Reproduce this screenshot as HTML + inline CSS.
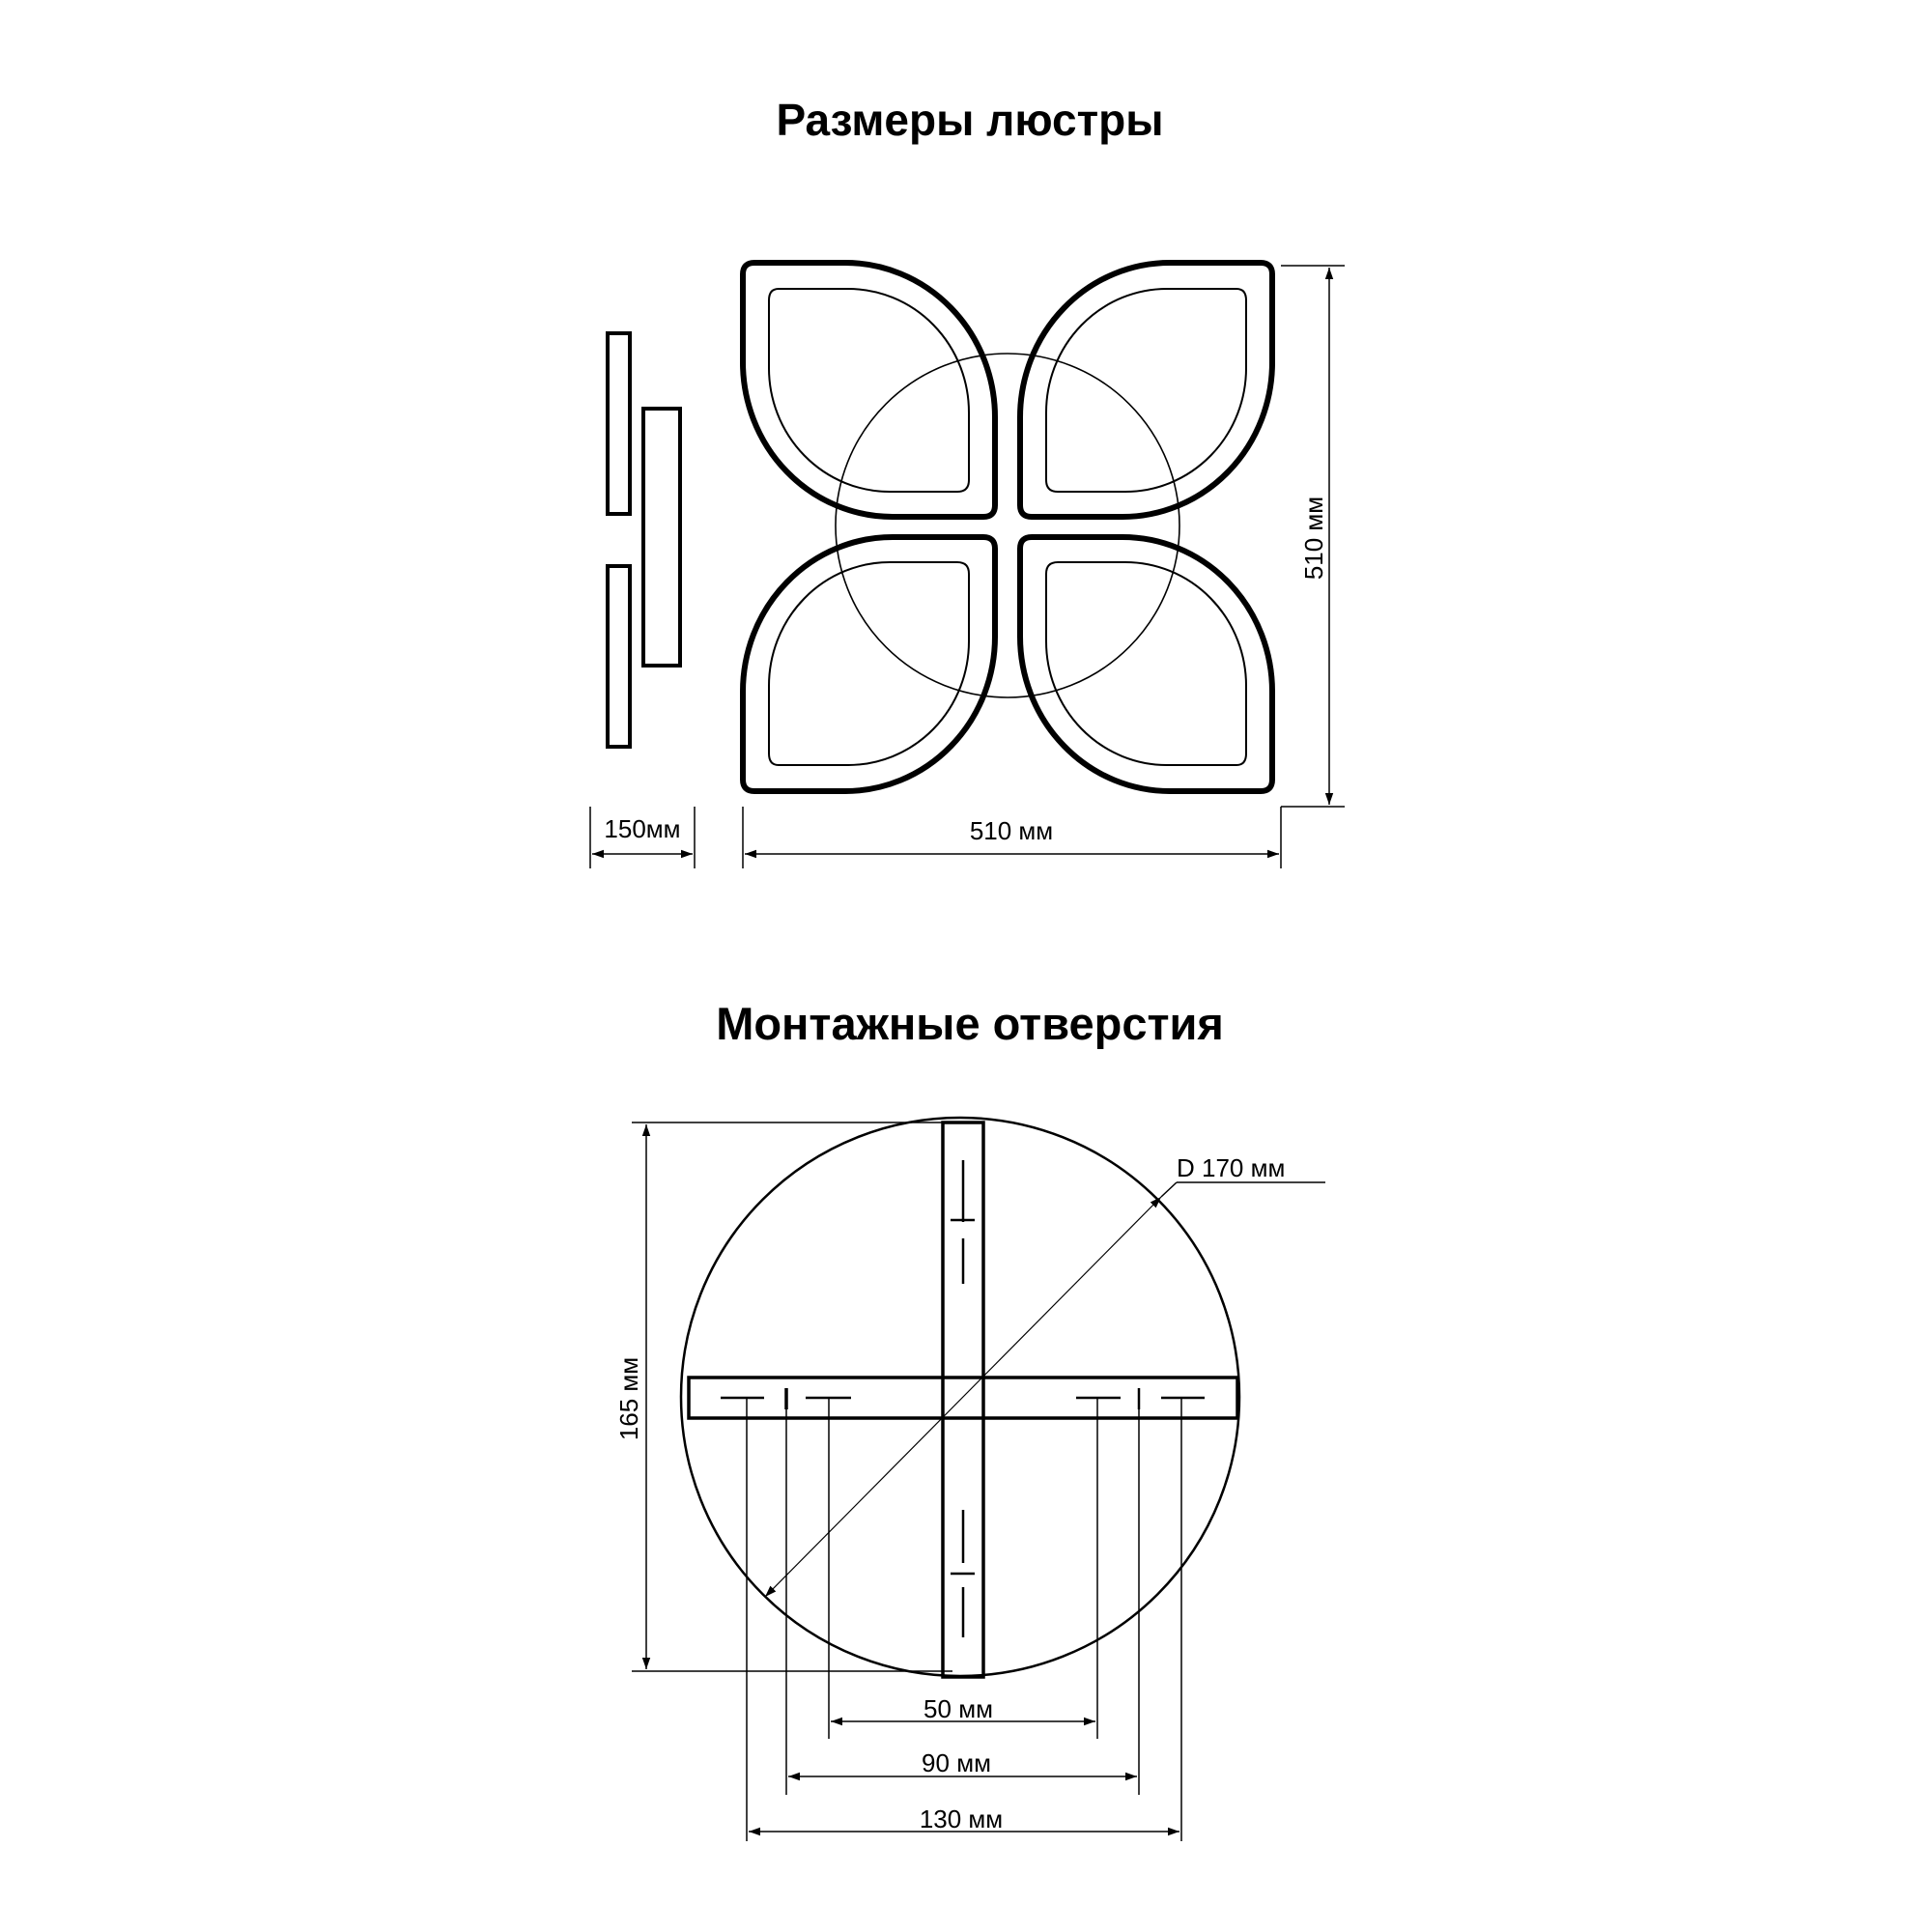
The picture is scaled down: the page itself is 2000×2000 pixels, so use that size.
<!DOCTYPE html>
<html><head><meta charset="utf-8"><style>
html,body{margin:0;padding:0;background:#fff}
svg{display:block}
text{font-family:"Liberation Sans",sans-serif;fill:#000}
</style></head><body>
<svg width="2000" height="2000" viewBox="0 0 2000 2000" xmlns="http://www.w3.org/2000/svg">
<defs>
<marker id="a" viewBox="0 0 10 10" refX="10" refY="5" markerWidth="12" markerHeight="12" markerUnits="userSpaceOnUse" orient="auto-start-reverse"><path d="M0,1.5 L10,5 L0,8.5 Z" fill="#000"/></marker>
<g id="petal">
<path d="M12,0 H106 A155 160 0 0 1 261,160 V251 Q261,263 249,263 H155 A155 160 0 0 1 0,103 V12 Q0,0 12,0 Z" fill="none" stroke="#000" stroke-width="6"/>
<path d="M37,27 H109 A125 128 0 0 1 234,155 V225 Q234,237 222,237 H152 A125 128 0 0 1 27,109 V39 Q27,27 37,27 Z" fill="none" stroke="#000" stroke-width="2"/>
</g>
</defs>

<text x="1004" y="140" font-size="46" font-weight="bold" text-anchor="middle">Размеры люстры</text>
<text x="1004" y="1076" font-size="47" font-weight="bold" text-anchor="middle">Монтажные отверстия</text>

<g transform="translate(-3,-1)">
<use href="#petal" transform="translate(772,273)"/>
<use href="#petal" transform="translate(1320,273) scale(-1,1)"/>
<use href="#petal" transform="translate(772,820) scale(1,-1)"/>
<use href="#petal" transform="translate(1320,820) scale(-1,-1)"/>
<circle cx="1046" cy="545" r="178" fill="none" stroke="#000" stroke-width="1.6"/>

<g fill="none" stroke="#000" stroke-width="4">
<rect x="632" y="346" width="23" height="187"/>
<rect x="669" y="424" width="38" height="266"/>
<rect x="632" y="587" width="23" height="187"/>
</g>

<g stroke="#000" stroke-width="1.5" fill="none">
<line x1="1329" y1="276" x2="1395" y2="276"/>
<line x1="1329" y1="836" x2="1395" y2="836"/>
<line x1="1329" y1="836" x2="1329" y2="900"/>
<line x1="1379" y1="278" x2="1379" y2="834" marker-start="url(#a)" marker-end="url(#a)"/>
<line x1="772" y1="836" x2="772" y2="900"/>
<line x1="774" y1="885" x2="1327" y2="885" marker-start="url(#a)" marker-end="url(#a)"/>
<line x1="614" y1="836" x2="614" y2="900"/>
<line x1="722" y1="836" x2="722" y2="900"/>
<line x1="616" y1="885" x2="720" y2="885" marker-start="url(#a)" marker-end="url(#a)"/>
</g>
<text x="1050" y="870" font-size="26" text-anchor="middle">510 мм</text>
<text x="668" y="868" font-size="26" text-anchor="middle">150мм</text>
<text x="0" y="0" font-size="26" text-anchor="middle" transform="translate(1372,558) rotate(-90)">510 мм</text>
</g>

<g transform="translate(-4,-4)">
<circle cx="998" cy="1450" r="289" fill="none" stroke="#000" stroke-width="2.5"/>
<g fill="none" stroke="#000" stroke-width="3.5">
<rect x="980" y="1166" width="42" height="574"/>
<rect x="717" y="1430" width="568" height="42"/>
</g>
<g stroke="#000" stroke-width="2.5">
<line x1="1001" y1="1205" x2="1001" y2="1269"/>
<line x1="988" y1="1267" x2="1013" y2="1267"/>
<line x1="1001" y1="1286" x2="1001" y2="1333"/>
<line x1="1001" y1="1567" x2="1001" y2="1622"/>
<line x1="988" y1="1633" x2="1013" y2="1633"/>
<line x1="1001" y1="1647" x2="1001" y2="1699"/>
<line x1="750" y1="1451" x2="795" y2="1451"/>
<line x1="818" y1="1441" x2="818" y2="1463" stroke-width="3.5"/>
<line x1="838" y1="1451" x2="885" y2="1451"/>
<line x1="1118" y1="1451" x2="1164" y2="1451"/>
<line x1="1183" y1="1441" x2="1183" y2="1463"/>
<line x1="1206" y1="1451" x2="1251" y2="1451"/>
</g>
<g stroke="#000" stroke-width="1.5" fill="none">
<line x1="777" y1="1451" x2="777" y2="1910"/>
<line x1="818" y1="1451" x2="818" y2="1862"/>
<line x1="862" y1="1451" x2="862" y2="1804"/>
<line x1="1140" y1="1451" x2="1140" y2="1804"/>
<line x1="1183" y1="1451" x2="1183" y2="1862"/>
<line x1="1227" y1="1451" x2="1227" y2="1910"/>
<line x1="864" y1="1786" x2="1138" y2="1786" marker-start="url(#a)" marker-end="url(#a)"/>
<line x1="820" y1="1843" x2="1181" y2="1843" marker-start="url(#a)" marker-end="url(#a)"/>
<line x1="779" y1="1900" x2="1225" y2="1900" marker-start="url(#a)" marker-end="url(#a)"/>
<line x1="658" y1="1166" x2="990" y2="1166"/>
<line x1="658" y1="1734" x2="990" y2="1734"/>
<line x1="673" y1="1168" x2="673" y2="1732" marker-start="url(#a)" marker-end="url(#a)"/>
<line x1="796" y1="1657" x2="1206" y2="1243" stroke-width="1.2" marker-start="url(#a)" marker-end="url(#a)"/>
<line x1="1206" y1="1243" x2="1222" y2="1228"/>
<line x1="1222" y1="1228" x2="1376" y2="1228"/>
</g>
<text x="996" y="1782" font-size="26" text-anchor="middle">50 мм</text>
<text x="994" y="1838" font-size="26" text-anchor="middle">90 мм</text>
<text x="999" y="1896" font-size="26" text-anchor="middle">130 мм</text>
<text x="1222" y="1222" font-size="26">D 170 мм</text>
<text x="0" y="0" font-size="26" text-anchor="middle" transform="translate(664,1452) rotate(-90)">165 мм</text>
</g>
</svg>
</body></html>
